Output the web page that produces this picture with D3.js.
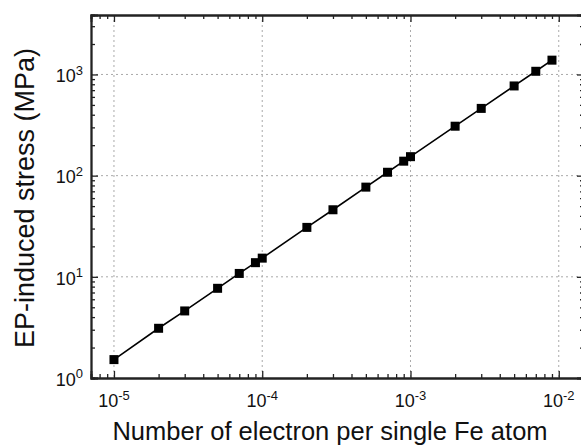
<!DOCTYPE html>
<html>
<head>
<meta charset="utf-8">
<script src="https://cdn.jsdelivr.net/npm/d3@7"></script>
<style>
  body { margin: 0; background: #fff; }
  svg { font-family: "Liberation Sans", Arial, sans-serif; }
</style>
</head>
<body>
<svg width="581" height="447"></svg>
<script>
// The svg
var svg = d3.select("svg"),
  width = +svg.attr("width"),
  height = +svg.attr("height");

// Data
var electrons = [1e-5, 2e-5, 3e-5, 5e-5, 7e-5, 9e-5, 1e-4, 2e-4, 3e-4, 5e-4, 7e-4, 9e-4, 1e-3, 2e-3, 3e-3, 5e-3, 7e-3, 9e-3];
var stress = [1.52, 3.1, 4.6, 7.7, 10.8, 13.8, 15.3, 30.8, 46, 77, 108, 139, 154, 308, 462, 770, 1075, 1385];
var xTicks = [1e-5, 1e-4, 1e-3, 1e-2];
var yTicks = [1, 10, 100, 1000];
var xLabel = "Number of electron per single Fe atom";
var yLabel = "EP-induced stress (MPa)";

var margin = { left: 91, top: 15, right: 584, bottom: 378 };

var x = d3.scaleLog().domain([7e-6, 0.0148]).range([margin.left, margin.right]);
var y = d3.scaleLog().domain([1, 3870]).range([margin.bottom, margin.top]);

// minor ticks
function minors(scale) {
  var d = scale.domain(), out = [];
  var lo = Math.floor(Math.log10(d[0])), hi = Math.ceil(Math.log10(d[1]));
  for (var e = lo; e <= hi; e++) {
    for (var m = 2; m <= 9; m++) {
      var v = m * Math.pow(10, e);
      if (v >= d[0] && v <= d[1]) out.push(v);
    }
  }
  return out;
}

// grid
var grid = svg.append("g").attr("stroke", "#aaa").attr("stroke-width", 1).attr("stroke-dasharray", "2,3");
grid.selectAll(".gx").data(xTicks).enter().append("line")
  .attr("x1", function (d) { return x(d); }).attr("x2", function (d) { return x(d); })
  .attr("y1", margin.top).attr("y2", margin.bottom);
grid.selectAll(".gy").data(yTicks.filter(function (d) { return d > 1; })).enter().append("line")
  .attr("y1", function (d) { return y(d); }).attr("y2", function (d) { return y(d); })
  .attr("x1", margin.left).attr("x2", margin.right);

// axes, ticks inward on all four sides
function fmt() { return ""; }
var axB = svg.append("g").attr("transform", "translate(0," + margin.bottom + ")");
axB.call(d3.axisBottom(x).tickValues(xTicks).tickSize(-7).tickFormat(fmt));
axB.append("g").call(d3.axisBottom(x).tickValues(minors(x)).tickSize(-4).tickFormat(fmt));
var axT = svg.append("g").attr("transform", "translate(0," + margin.top + ")");
axT.call(d3.axisTop(x).tickValues(xTicks).tickSize(-7).tickFormat(fmt));
axT.append("g").call(d3.axisTop(x).tickValues(minors(x)).tickSize(-4).tickFormat(fmt));
var axL = svg.append("g").attr("transform", "translate(" + margin.left + ",0)");
axL.call(d3.axisLeft(y).tickValues(yTicks).tickSize(-7).tickFormat(fmt));
axL.append("g").call(d3.axisLeft(y).tickValues(minors(y)).tickSize(-4).tickFormat(fmt));
var axR = svg.append("g").attr("transform", "translate(" + margin.right + ",0)");
axR.call(d3.axisRight(y).tickValues(yTicks).tickSize(-7).tickFormat(fmt));
axR.append("g").call(d3.axisRight(y).tickValues(minors(y)).tickSize(-4).tickFormat(fmt));
svg.selectAll(".domain").attr("stroke", "#222").attr("stroke-width", 1.8);
svg.selectAll(".tick line").attr("stroke", "#222").attr("stroke-width", 1.3);

// tick labels with superscripts
function powLabel(t, d) {
  t.append("tspan").text("10");
  t.append("tspan").attr("font-size", 13).attr("dy", -7.5).text(Math.round(Math.log10(d)));
}
svg.append("g").selectAll("text").data(xTicks).enter().append("text")
  .attr("x", function (d) { return x(d); })
  .attr("y", 407)
  .attr("text-anchor", "middle")
  .attr("font-size", 18)
  .attr("fill", "#111")
  .each(function (d) { powLabel(d3.select(this), d); });
svg.append("g").selectAll("text").data(yTicks).enter().append("text")
  .attr("x", 83)
  .attr("y", function (d) { return y(d) + 7.7; })
  .attr("text-anchor", "end")
  .attr("font-size", 18)
  .attr("fill", "#111")
  .each(function (d) { powLabel(d3.select(this), d); });

// axis titles
svg.append("text")
  .attr("x", 330).attr("y", 440)
  .attr("text-anchor", "middle")
  .attr("font-size", 25.5)
  .attr("fill", "#111")
  .text(xLabel);
svg.append("text")
  .attr("transform", "translate(34,198) rotate(-90)")
  .attr("text-anchor", "middle")
  .attr("font-size", 27)
  .attr("fill", "#111")
  .text(yLabel);

// line and markers
var pts = electrons.map(function (d, i) { return [d, stress[i]]; });
svg.append("path")
  .datum(pts)
  .attr("fill", "none")
  .attr("stroke", "#000")
  .attr("stroke-width", 1.6)
  .attr("d", d3.line().x(function (d) { return x(d[0]); }).y(function (d) { return y(d[1]); }));
svg.append("g").selectAll("rect").data(pts).enter().append("rect")
  .attr("x", function (d) { return x(d[0]) - 4.5; })
  .attr("y", function (d) { return y(d[1]) - 4.5; })
  .attr("width", 9).attr("height", 9)
  .attr("fill", "#000");
</script>
</body>
</html>
